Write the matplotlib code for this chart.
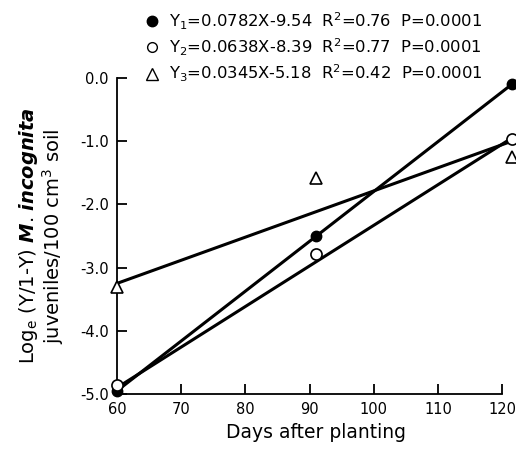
import matplotlib.pyplot as plt
from matplotlib.lines import Line2D

plt.rcParams['font.family'] = ['DejaVu Sans']
plt.rcParams['axes.unicode_minus'] = False
plt.rcParams['mathtext.fontset'] = 'custom'
plt.rcParams['mathtext.rm'] = 'DejaVu Sans'
plt.rcParams['mathtext.it'] = 'DejaVu Sans:italic:bold'
plt.rcParams['mathtext.default'] = 'regular'

# observed points (days after planting, loge(Y/1-Y))
days = [60, 91, 121.5]
y1_obs = [-4.95, -2.5, -0.1]
y2_obs = [-4.85, -2.78, -0.97]
y3_obs = [-3.3, -1.58, -1.25]

# fitted lines as drawn (end points)
fit_days = [60, 121.5]
y1_fit = [-4.95, -0.1]
y2_fit = [-4.9, -0.95]
y3_fit = [-3.25, -1.0]

legend_labels = [
    "Y$_1$=0.0782X-9.54  R$^2$=0.76  P=0.0001",
    "Y$_2$=0.0638X-8.39  R$^2$=0.77  P=0.0001",
    "Y$_3$=0.0345X-5.18  R$^2$=0.42  P=0.0001",
]

fig = plt.figure(figsize=(5.16, 4.5), dpi=100)
ax = fig.add_axes([117 / 516, (450 - 394) / 450, (515 - 117) / 516, (394 - 78) / 450])

lw = 2.2
ax.plot(fit_days, y1_fit, color="black", lw=lw, solid_capstyle="round", clip_on=False)
ax.plot(fit_days, y2_fit, color="black", lw=lw, solid_capstyle="round", clip_on=False)
ax.plot(fit_days, y3_fit, color="black", lw=lw, solid_capstyle="round", clip_on=False)

ax.plot(days, y1_obs, "o", ms=7.5, mfc="black", mec="black", ls="none", clip_on=False, zorder=5)
ax.plot(days, y2_obs, "o", ms=8, mfc="white", mec="black", mew=1.2, ls="none", clip_on=False, zorder=5)
ax.plot(days, y3_obs, "^", ms=9, mfc="white", mec="black", mew=1.2, ls="none", clip_on=False, zorder=5)

ax.set_xlim(60, 122)
ax.set_ylim(-5, 0)
ax.set_xticks([60, 70, 80, 90, 100, 110, 120])
ax.set_yticks([0, -1, -2, -3, -4, -5])
ax.set_yticklabels(["0.0", "-1.0", "-2.0", "-3.0", "-4.0", "-5.0"])

for side in ["top", "right"]:
    ax.spines[side].set_visible(False)
ax.spines["bottom"].set_bounds(60, 120)
ax.spines["left"].set_linewidth(1.3)
ax.spines["bottom"].set_linewidth(1.3)
ax.tick_params(direction="in", length=7, width=1.3, labelsize=10.5, pad=6)

ax.set_xlabel("Days after planting", fontsize=13.5, labelpad=4)
ax.set_ylabel("Log$_e$ (Y/1-Y) $\\mathit{M}$. $\\mathit{incognita}$\njuveniles/100 cm$^3$ soil",
              fontsize=14, labelpad=10, linespacing=1.0)

handles = [
    Line2D([], [], marker="o", ls="none", ms=7.5, mfc="black", mec="black"),
    Line2D([], [], marker="o", ls="none", ms=7, mfc="white", mec="black", mew=1.0),
    Line2D([], [], marker="^", ls="none", ms=8, mfc="white", mec="black", mew=1.0),
]
fig.legend(handles, legend_labels, loc="upper left", bbox_to_anchor=(136 / 516, 1 - 2 / 450),
           frameon=False, fontsize=11.8, handlelength=1.0, handletextpad=0.5,
           labelspacing=0.3, borderpad=0)

fig.savefig("out.png", dpi=100)
